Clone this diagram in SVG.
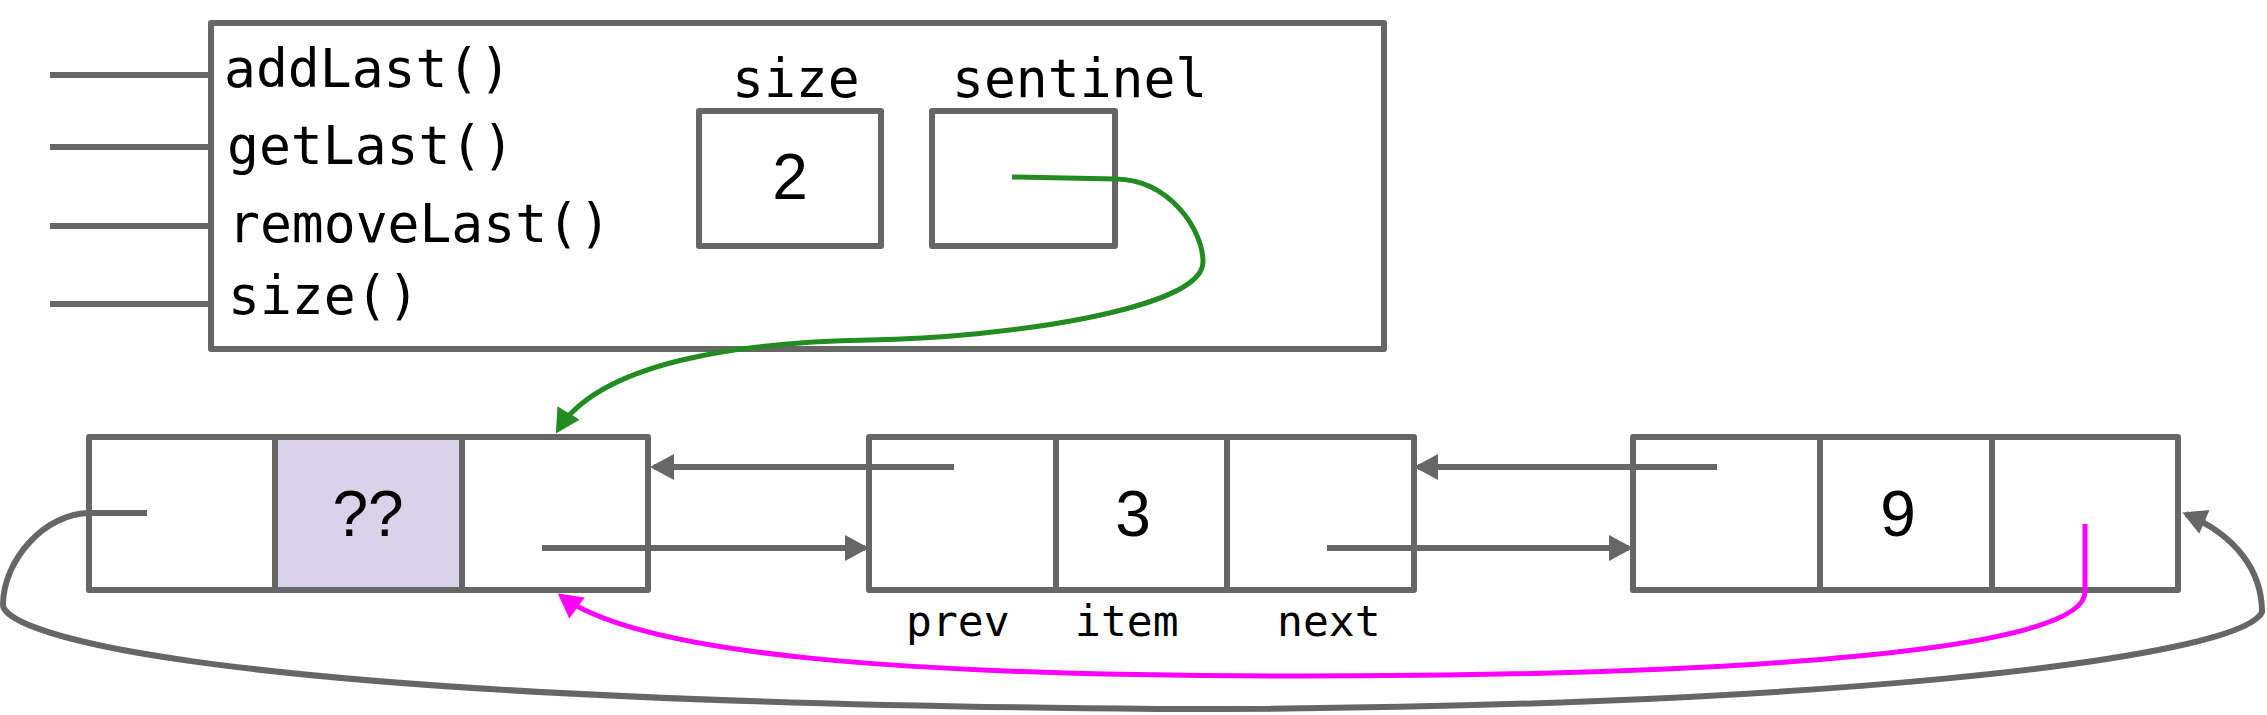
<svg xmlns="http://www.w3.org/2000/svg" width="2267" height="715" viewBox="0 0 2267 715">
<style>
.box{fill:#ffffff;stroke:#666666;stroke-width:6;stroke-linejoin:round}
.div{stroke:#666666;stroke-width:6}
.mono{font-family:"DejaVu Sans Mono","Liberation Mono",monospace;fill:#000000}
.big{font-size:53px}
.small{font-size:43px}
.val{font-family:"Liberation Sans",Arial,sans-serif;font-size:64px;fill:#000000;text-anchor:middle}
.gl{fill:none;stroke:#666666;stroke-width:6}
.gray{fill:none;stroke:#666666;stroke-width:6;marker-end:url(#ag)}
.green{fill:none;stroke:#228b22;stroke-width:5;marker-end:url(#agr)}
.mag{fill:none;stroke:#ff00ff;stroke-width:5;marker-end:url(#am)}
</style>
<defs>
<marker id="ag" markerUnits="userSpaceOnUse" markerWidth="24" markerHeight="26" refX="20" refY="13" orient="auto" overflow="visible"><path d="M0,0 L24,13 L0,26 z" fill="#666666"/></marker>
<marker id="agr" markerUnits="userSpaceOnUse" markerWidth="24" markerHeight="26" refX="20" refY="13" orient="auto" overflow="visible"><path d="M0,0 L24,13 L0,26 z" fill="#228b22"/></marker>
<marker id="am" markerUnits="userSpaceOnUse" markerWidth="24" markerHeight="26" refX="20" refY="13" orient="auto" overflow="visible"><path d="M0,0 L24,13 L0,26 z" fill="#ff00ff"/></marker>
</defs>
<rect width="2267" height="715" fill="#ffffff"/>

<g id="interface-lines">
<line class="gl" x1="50" y1="75" x2="211" y2="75"/>
<line class="gl" x1="50" y1="147" x2="211" y2="147"/>
<line class="gl" x1="50" y1="226" x2="211" y2="226"/>
<line class="gl" x1="50" y1="304" x2="211" y2="304"/>
</g>

<g id="list-object">
<rect class="box" x="211" y="23" width="1173" height="326"/>
<text class="mono big" x="224" y="87">addLast()</text>
<text class="mono big" x="227" y="164">getLast()</text>
<text class="mono big" x="228" y="242">removeLast()</text>
<text class="mono big" x="228" y="314">size()</text>
</g>

<g id="size-field">
<text class="mono big" x="732" y="97">size</text>
<rect class="box" x="699" y="111" width="182" height="135"/>
<text class="val" x="790" y="199">2</text>
</g>

<g id="sentinel-field">
<text class="mono big" x="952" y="97">sentinel</text>
<rect class="box" x="932" y="111" width="183" height="135"/>
</g>

<g id="node-sentinel">
<rect class="box" x="89" y="437" width="559" height="153"/>
<rect x="275" y="437" width="187" height="153" fill="#d9d2e9" stroke="#666666" stroke-width="6"/>
<text class="val" x="368" y="536">??</text>
</g>

<g id="node-3">
<rect class="box" x="869" y="437" width="545" height="153"/>
<line class="div" x1="1056" y1="437" x2="1056" y2="590"/>
<line class="div" x1="1227" y1="437" x2="1227" y2="590"/>
<text class="val" x="1133" y="536">3</text>
<text class="mono small" x="906" y="636">prev</text>
<text class="mono small" x="1075" y="636">item</text>
<text class="mono small" x="1277" y="636">next</text>
</g>

<g id="node-9">
<rect class="box" x="1633" y="437" width="545" height="153"/>
<line class="div" x1="1820" y1="437" x2="1820" y2="590"/>
<line class="div" x1="1992" y1="437" x2="1992" y2="590"/>
<text class="val" x="1898" y="536">9</text>
</g>

<g id="connectors">
<path class="gray" d="M954,467 H654"/>
<path class="gray" d="M542,548 H865"/>
<path class="gray" d="M1717,467 H1418"/>
<path class="gray" d="M1327,548 H1629"/>
<path class="gray" d="M147,513 H90 C45,513 3,560 3,605 C3,625 120,700 1157,709 C1800,710 2240,660 2262,612 C2262,570 2235,535 2186,514"/>
<path class="green" d="M1012,177 L1116,179 C1170,180 1203,230 1203,262 C1203,310 1000,338 870,340 C740,342 600,362 558,430"/>
<path class="mag" d="M2085,524 L2085,592 C2085,650 1750,676 1300,676 C900,676 640,655 561,596"/>
</g>
</svg>
